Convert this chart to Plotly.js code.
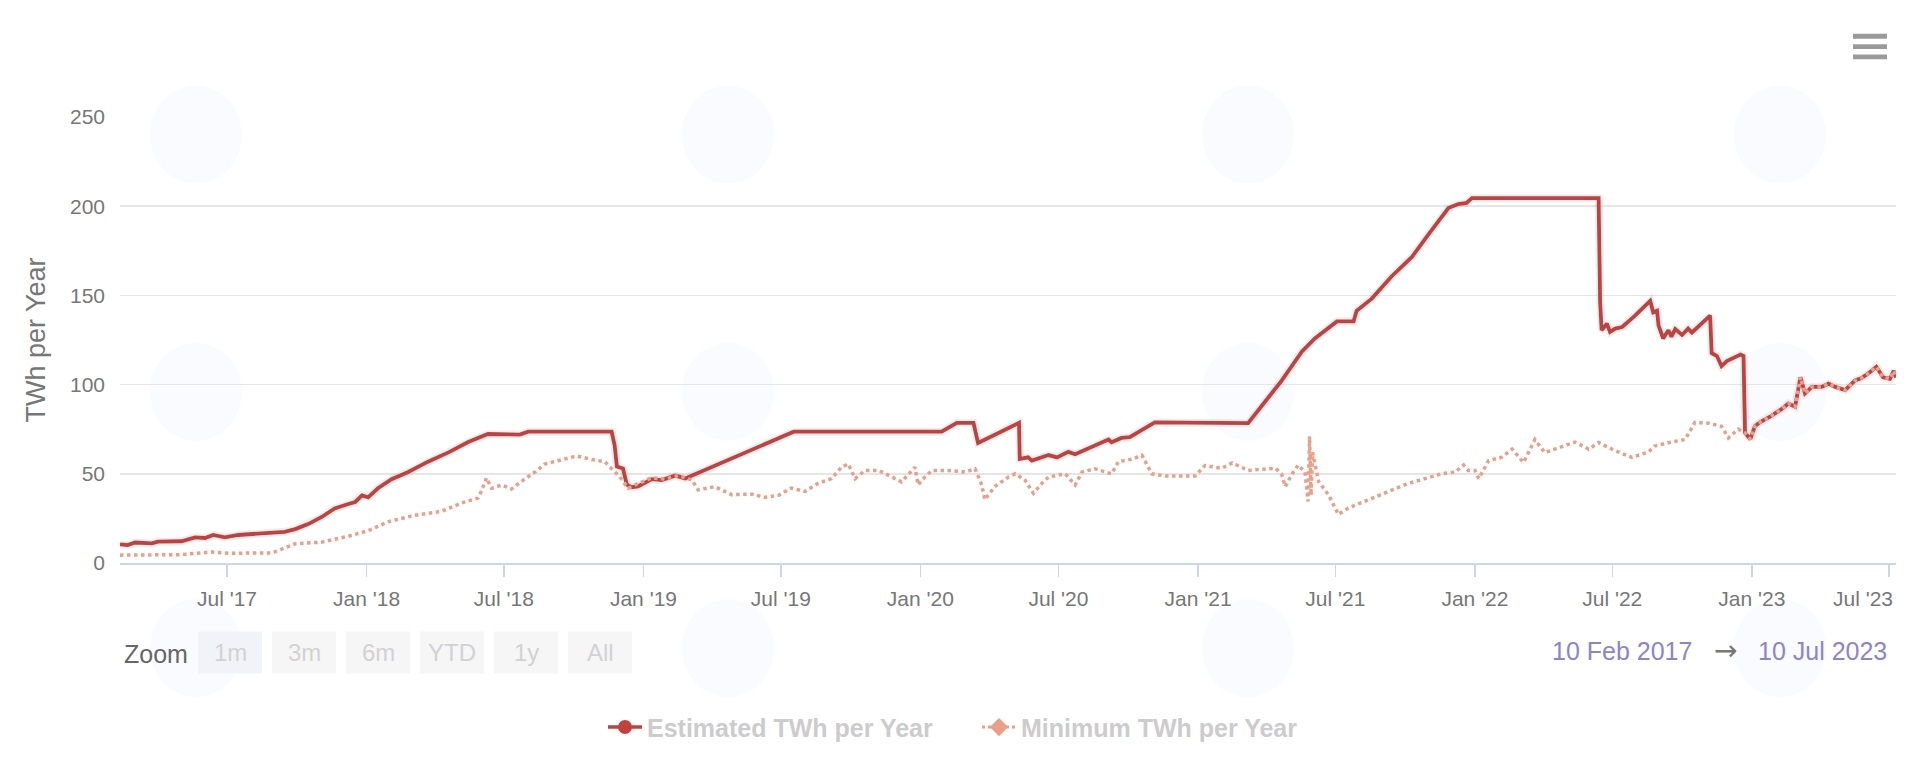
<!DOCTYPE html>
<html>
<head>
<meta charset="utf-8">
<script src="https://cdn.plot.ly/plotly-3.0.1.min.js"></script>
<style>
  html, body { margin: 0; padding: 0; background: #ffffff; }
  #chart { width: 1914px; height: 762px; }
</style>
</head>
<body>
<div id="chart"></div>
<script>
// ---- Data ----
const estimatedDates = [
  '2017-02-10','2017-02-20','2017-03-02','2017-03-24','2017-04-01','2017-05-02','2017-05-20','2017-06-02',
  '2017-06-13','2017-06-28','2017-07-16','2017-08-07','2017-09-15','2017-09-29','2017-10-16','2017-11-03',
  '2017-11-20','2017-12-08','2017-12-17','2017-12-26','2018-01-03','2018-01-16','2018-02-03','2018-02-25',
  '2018-03-23','2018-04-19','2018-05-15','2018-06-10','2018-07-22','2018-08-02','2018-11-20','2018-11-24',
  '2018-11-27','2018-12-05','2018-12-10','2018-12-16','2018-12-25','2019-01-12','2019-01-25','2019-02-12',
  '2019-02-25','2019-07-18','2020-01-29','2020-02-18','2020-03-11','2020-03-17','2020-05-10','2020-05-11',
  '2020-05-22','2020-05-27','2020-06-18','2020-06-29','2020-07-14','2020-07-23','2020-09-05','2020-09-09',
  '2020-09-22','2020-10-03','2020-11-05','2021-03-08','2021-04-21','2021-05-18','2021-06-04','2021-07-03',
  '2021-07-25','2021-07-29','2021-08-18','2021-09-13','2021-10-10','2021-11-01','2021-11-27','2021-12-10',
  '2021-12-21','2021-12-28','2022-06-13','2022-06-15','2022-06-17','2022-06-24','2022-06-28','2022-07-05',
  '2022-07-14','2022-07-31','2022-08-20','2022-08-24','2022-08-29','2022-08-31','2022-09-06','2022-09-13',
  '2022-09-17','2022-09-22','2022-10-01','2022-10-09','2022-10-14','2022-11-07','2022-11-09','2022-11-16',
  '2022-11-22','2022-11-29','2022-12-17','2022-12-21','2022-12-23','2022-12-30','2023-01-05','2023-01-12',
  '2023-01-18','2023-01-25','2023-02-01','2023-02-10','2023-02-18','2023-02-27','2023-03-06','2023-03-12',
  '2023-03-21','2023-04-03','2023-04-12','2023-04-21','2023-05-04','2023-05-17','2023-05-25','2023-06-04',
  '2023-06-14','2023-06-23','2023-07-02','2023-07-07','2023-07-10'
];
const estimatedValues = [
  10.4,10.0,11.5,11.0,12.0,12.2,14.4,14.0,
  15.7,14.4,15.7,16.3,17.5,19.0,21.8,25.8,
  30.6,33.1,34.2,37.9,36.8,41.9,47.0,51.0,
  56.8,62.0,67.8,72.3,72.0,73.6,73.6,66.0,
  54.0,53.0,44.0,42.5,43.0,47.0,46.5,49.0,
  47.4,73.6,73.6,78.6,78.6,67.3,78.6,58.3,
  59.2,57.4,60.5,59.2,62.3,61.0,69.2,67.7,
  70.1,70.6,78.8,78.4,102.1,118.6,125.9,135.4,
  135.4,141.4,148.2,160.6,171.6,184.4,199.0,201.2,
  201.8,204.5,204.5,146.0,130.5,134.1,129.5,131.4,
  132.3,138.7,146.9,140.5,141.4,133.2,125.9,130.5,
  126.9,131.1,127.8,131.4,129.2,138.7,117.7,116.0,
  110.4,113.2,116.8,116.0,73.0,69.4,76.7,79.0,
  80.3,82.0,84.0,86.5,89.4,87.6,104.1,95.0,
  98.7,98.7,100.5,98.7,96.9,102.3,103.5,106.4,
  110.0,104.1,103.2,107.7,104.0
];

const minimumDates = [
  '2017-02-10','2017-05-02','2017-06-11','2017-07-03','2017-08-29','2017-09-02','2017-09-29','2017-11-03',
  '2017-12-08','2018-01-03','2018-01-30','2018-03-06','2018-04-10','2018-05-06','2018-05-28','2018-06-02',
  '2018-06-08','2018-06-15','2018-06-28','2018-07-11','2018-07-29','2018-08-11','2018-08-24','2018-09-15',
  '2018-10-05','2018-10-25','2018-11-11','2018-11-20','2018-11-29','2018-12-12','2018-12-25','2019-01-12',
  '2019-01-29','2019-02-16','2019-03-06','2019-03-14','2019-04-05','2019-04-27','2019-05-24','2019-06-10',
  '2019-06-28','2019-07-15','2019-08-02','2019-08-19','2019-09-06','2019-09-19','2019-09-28','2019-10-07',
  '2019-10-20','2019-11-07','2019-11-24','2019-12-07','2019-12-25','2019-12-29','2020-01-03','2020-01-16',
  '2020-02-07','2020-02-29','2020-03-13','2020-03-22','2020-03-26','2020-04-08','2020-04-26','2020-05-05',
  '2020-05-18','2020-05-29','2020-06-09','2020-06-18','2020-07-10','2020-07-23','2020-08-01','2020-08-18',
  '2020-09-09','2020-09-18','2020-10-06','2020-10-19','2020-11-01','2020-11-19','2020-12-28','2021-01-10',
  '2021-02-01','2021-02-15','2021-03-08','2021-04-13','2021-04-21','2021-04-26','2021-05-05','2021-05-13',
  '2021-05-22','2021-05-26','2021-05-28','2021-05-30','2021-06-01','2021-06-04','2021-06-09','2021-06-22',
  '2021-07-05','2021-07-18','2021-08-14','2021-09-09','2021-10-05','2021-10-27','2021-11-18','2021-12-06',
  '2021-12-17','2021-12-23','2022-01-01','2022-01-06','2022-01-19','2022-02-05','2022-02-19','2022-03-06',
  '2022-03-21','2022-04-03','2022-04-30','2022-05-13','2022-05-31','2022-06-13','2022-07-05','2022-07-27',
  '2022-08-18','2022-08-26','2022-09-17','2022-10-05','2022-10-18','2022-11-05','2022-11-22','2022-12-01',
  '2022-12-14','2022-12-23','2022-12-30','2023-01-05','2023-01-12','2023-01-18','2023-01-25','2023-02-01',
  '2023-02-10','2023-02-18','2023-02-27','2023-03-06','2023-03-12','2023-03-21','2023-04-03','2023-04-12',
  '2023-04-21','2023-05-04','2023-05-17','2023-05-25','2023-06-04','2023-06-14','2023-06-23','2023-07-02',
  '2023-07-07','2023-07-10'
];
const minimumValues = [
  4.4,4.7,6.2,5.5,5.6,6.2,10.8,11.7,
  15.0,18.1,23.2,26.8,29.0,33.6,36.4,40.9,
  47.7,41.9,43.7,41.5,47.3,51.0,55.5,57.9,
  60.0,58.0,56.8,52.8,49.2,41.9,44.6,47.7,
  47.0,49.0,46.5,41.0,42.8,38.3,38.6,36.8,
  38.0,42.0,40.1,44.6,47.3,53.7,55.5,47.3,
  51.9,51.9,48.2,45.5,53.7,43.7,46.4,51.9,
  51.9,51.0,52.8,43.7,35.5,42.8,48.2,50.0,
  46.4,39.1,44.6,48.2,50.0,43.7,51.0,52.8,
  50.0,56.8,58.2,60.4,50.0,48.7,48.7,54.6,
  53.1,56.1,51.9,53.1,50.0,42.8,50.0,54.9,
  51.0,34.5,71.0,38.0,62.0,56.4,45.5,38.2,
  27.2,30.8,35.4,40.0,44.6,47.3,50.0,51.0,
  54.9,51.9,51.9,47.3,57.4,59.2,63.8,56.4,
  69.2,61.9,65.6,67.8,63.8,67.5,62.9,59.2,
  62.3,65.6,67.8,69.2,78.8,78.4,76.6,70.1,
  75.0,73.0,69.4,76.7,79.0,80.3,82.0,84.0,
  86.5,89.4,87.6,104.1,95.0,98.7,98.7,100.5,
  98.7,96.9,102.3,103.5,106.4,110.0,104.1,103.2,
  107.7,104.0
];

const seriesNames = ['Estimated TWh per Year', 'Minimum TWh per Year'];
const yTickValues = [0, 50, 100, 150, 200, 250];
const lastTickLabel = "Jul '23";
const zoomButtons = ['1m', '3m', '6m', 'YTD', '1y', 'All'];
const rangeStartText = '10 Feb 2017';
const rangeEndText = '10 Jul 2023';

// ---- Layout helpers (pixel -> paper) ----
const W = 1914, H = 762;
const M = { l: 120, r: 18, t: 117, b: 189 };
const PW = W - M.l - M.r, PH = H - M.t - M.b;
const px = x => (x - M.l) / PW;
const py = y => (H - M.b - y) / PH;

const colEst = '#c4403f';
const colMin = '#eb9f88';
const FONT = 'Liberation Sans, Arial, Helvetica, sans-serif';

const traces = [
  { x: estimatedDates, y: estimatedValues, type: 'scatter', mode: 'lines',
    line: { color: 'rgba(0,0,0,0.06)', width: 8 }, showlegend: false, hoverinfo: 'skip' },
  { x: estimatedDates, y: estimatedValues, type: 'scatter', mode: 'lines', name: seriesNames[0],
    line: { color: colEst, width: 3.8 }, showlegend: false },
  { x: minimumDates, y: minimumValues, type: 'scatter', mode: 'lines', name: seriesNames[1],
    line: { color: colMin, width: 3.5, dash: 'dot' }, showlegend: false },
  // legend entries
  { x: [null], y: [null], type: 'scatter', mode: 'lines+markers', name: seriesNames[0],
    line: { color: colEst, width: 3.5 }, marker: { color: colEst, size: 14, symbol: 'circle' } },
  { x: [null], y: [null], type: 'scatter', mode: 'lines+markers', name: seriesNames[1],
    line: { color: colMin, width: 3, dash: 'dot' }, marker: { color: colMin, size: 14, symbol: 'diamond' } }
];

const shapes = [];
const annotations = [];

// watermark blobs (very faint)
[[196,135],[728,135],[1248,135],[1780,135],[196,398],[728,398],[1248,398],[1780,398],[196,660],[728,660],[1248,660],[1780,660]].forEach(([cx, cy]) => {
  shapes.push({ type: 'circle', xref: 'paper', yref: 'paper', layer: 'below',
    x0: px(cx - 46), x1: px(cx + 46), y0: py(cy + 50), y1: py(cy - 50),
    fillcolor: '#fafbfe', line: { width: 0 } });
});

// zoom buttons
const btnX = [198, 272, 346, 420, 494, 568];
zoomButtons.forEach((b, i) => {
  shapes.push({ type: 'rect', xref: 'paper', yref: 'paper',
    x0: px(btnX[i]), x1: px(btnX[i] + 64), y0: py(686), y1: py(643),
    fillcolor: i === 0 ? '#f1f3f8' : '#f6f6f6', line: { width: 0 } });
  annotations.push({ xref: 'paper', yref: 'paper', x: px(btnX[i] + 32), y: py(665),
    text: b, showarrow: false, xanchor: 'center', yanchor: 'middle',
    font: { family: FONT, size: 24, color: '#d2d2d2' } });
});
annotations.push({ xref: 'paper', yref: 'paper', x: px(122), y: py(666), text: 'Zoom',
  showarrow: false, xanchor: 'left', yanchor: 'middle', font: { family: FONT, size: 25, color: '#666666' } });

// range text
annotations.push({ xref: 'paper', yref: 'paper', x: px(1694), y: py(663), text: rangeStartText,
  showarrow: false, xanchor: 'right', yanchor: 'middle', font: { family: FONT, size: 25, color: '#8a84d2' } });
annotations.push({ xref: 'paper', yref: 'paper', x: px(1725), y: py(662), text: '→',
  showarrow: false, xanchor: 'center', yanchor: 'middle', font: { family: 'DejaVu Sans, sans-serif', size: 28, color: '#777777' } });
annotations.push({ xref: 'paper', yref: 'paper', x: px(1889), y: py(663), text: rangeEndText,
  showarrow: false, xanchor: 'right', yanchor: 'middle', font: { family: FONT, size: 25, color: '#8a84d2' } });

// last x tick label kept inside the chart (as the reference does)
annotations.push({ xref: 'paper', yref: 'paper', x: px(1895), y: py(609), text: lastTickLabel,
  showarrow: false, xanchor: 'right', yanchor: 'middle', font: { family: FONT, size: 21, color: '#777777' } });

// hamburger menu
[34.5, 45, 55.5].forEach(cy => {
  shapes.push({ type: 'rect', xref: 'paper', yref: 'paper',
    x0: px(1853), x1: px(1887), y0: py(cy + 2.5), y1: py(cy - 2.5),
    fillcolor: '#9a9a9a', line: { width: 0 } });
});

const layout = {
  width: W, height: H,
  margin: M,
  paper_bgcolor: '#ffffff', plot_bgcolor: 'rgba(0,0,0,0)',
  font: { family: FONT, color: '#666666' },
  showlegend: true,
  legend: { orientation: 'h', x: px(603), xanchor: 'left', y: py(741), yanchor: 'middle',
    font: { family: FONT, size: 25, color: '#cccccc', weight: 'bold' },
    itemwidth: 34, entrywidth: 325, entrywidthmode: 'pixels',
    traceorder: 'normal', bgcolor: 'rgba(0,0,0,0)' },
  xaxis: {
    type: 'date', range: ['2017-02-10', '2023-07-10'],
    tick0: '2017-01-01', dtick: 'M6', tickformat: "%b '%y",
    showgrid: false, zeroline: false,
    showline: true, linecolor: '#ccd6eb', linewidth: 1.5,
    ticks: 'outside', ticklen: 12, tickcolor: '#ccd6eb', tickwidth: 1.5,
    ticklabelstandoff: 4,
    tickfont: { family: FONT, size: 21, color: '#777777' }
  },
  yaxis: {
    range: [0, 250], tickvals: yTickValues, showline: false, zeroline: false,
    gridcolor: '#e6e6e6', gridwidth: 1.5, ticks: '', ticklabelstandoff: 14,
    tickfont: { family: FONT, size: 21, color: '#777777' },
    title: { text: 'TWh per Year', standoff: 16, font: { family: FONT, size: 27, color: '#777777' } }
  },
  shapes: shapes,
  annotations: annotations,
  hovermode: false
};

Plotly.newPlot('chart', traces, layout, { displayModeBar: false, staticPlot: true });
</script>
</body>
</html>
